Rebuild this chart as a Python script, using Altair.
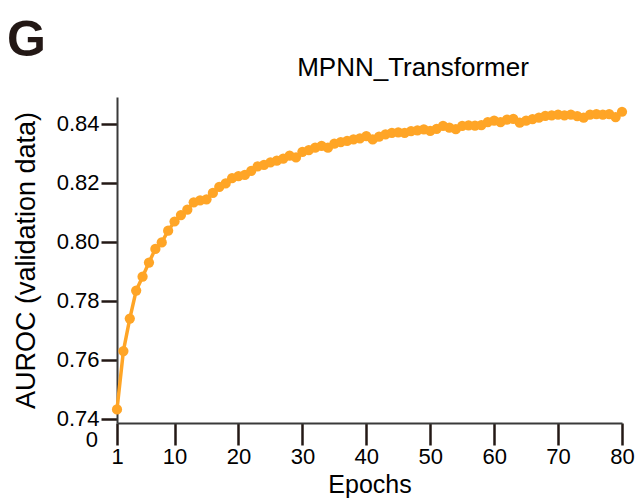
import altair as alt
import pandas as pd

epochs = list(range(1, 81))
auroc = [
    0.7431, 0.7629, 0.7739, 0.7834, 0.7881, 0.7929, 0.7975, 0.7997, 0.8037, 0.8068,
    0.8090, 0.8108, 0.8133, 0.8140, 0.8143, 0.8165, 0.8185, 0.8197, 0.8215, 0.8222,
    0.8226, 0.8240, 0.8255, 0.8260, 0.8268, 0.8274, 0.8281, 0.8291, 0.8285, 0.8304,
    0.8310, 0.8318, 0.8324, 0.8318, 0.8332, 0.8337, 0.8341, 0.8346, 0.8350, 0.8357,
    0.8346, 0.8356, 0.8363, 0.8368, 0.8370, 0.8368, 0.8374, 0.8377, 0.8380, 0.8375,
    0.8382, 0.8392, 0.8386, 0.8381, 0.8392, 0.8394, 0.8393, 0.8395, 0.8405, 0.8410,
    0.8405, 0.8413, 0.8416, 0.8403, 0.8410, 0.8415, 0.8420, 0.8426, 0.8428, 0.8430,
    0.8428, 0.8430, 0.8425, 0.8420, 0.8430, 0.8432, 0.8430, 0.8432, 0.8422, 0.8440,
]
x_ticks = [1, 10, 20, 30, 40, 50, 60, 70, 80]
y_ticks = [0.74, 0.76, 0.78, 0.80, 0.82, 0.84]
panel_label = ["G"]
break_label = ["0"]
title_text = ["MPNN_Transformer"]

FONT = "Liberation Sans"
ORANGE = "#FFA526"

df = pd.DataFrame({"epoch": epochs, "auroc": auroc})

x_enc = alt.X(
    "epoch:Q",
    scale=alt.Scale(domain=[1, 80], nice=False, zero=False),
    axis=alt.Axis(values=x_ticks, format="d", title="Epochs", tickSize=22,
                  labelPadding=1, titlePadding=5, labelFlush=False),
)
y_enc = alt.Y(
    "auroc:Q",
    scale=alt.Scale(domain=[0.7385, 0.849], nice=False, zero=False),
    axis=alt.Axis(values=y_ticks, format=".2f", title="AUROC (validation data)",
                  tickSize=16, labelPadding=2, titlePadding=16, titleFontSize=27),
)

line = alt.Chart(df).mark_line(color=ORANGE, strokeWidth=3.5).encode(x=x_enc, y=y_enc)
pts = alt.Chart(df).mark_circle(color=ORANGE, size=105, opacity=1).encode(x=x_enc, y=y_enc)

zero = alt.Chart(pd.DataFrame({"lab": break_label})).mark_text(
    align="right", baseline="middle", fontSize=22, font=FONT, color="black"
).encode(x=alt.value(-19), y=alt.datum(0.7329), text="lab:N")

glabel = alt.Chart(pd.DataFrame({"lab": panel_label})).mark_text(
    align="left", baseline="alphabetic", fontSize=50, fontWeight="bold",
    font="Liberation Sans Narrow, " + FONT, color="#231815"
).encode(x=alt.value(-110), y=alt.value(-41), text="lab:N")

title = alt.Chart(pd.DataFrame({"lab": title_text})).mark_text(
    align="center", baseline="alphabetic", fontSize=26, font=FONT, color="black"
).encode(x=alt.value(296), y=alt.value(-21), text="lab:N")

chart = (
    alt.layer(line, pts, zero, glabel, title)
    .properties(
        width=505, height=326,
        padding={"left": 117, "top": 97, "right": 13, "bottom": 78},
        autosize=alt.AutoSizeParams(type="none"),
    )
    .configure_view(stroke=None)
    .configure_axis(
        grid=False, labelFont=FONT, titleFont=FONT, labelFontSize=22, titleFontSize=25,
        titleFontWeight="normal", labelColor="black", titleColor="black",
        domainColor="#3a3a3a", domainWidth=2, tickColor="#231815", tickWidth=2.5,
    )
)

chart.save("out.html", embed_options={"renderer": "svg", "actions": False})
